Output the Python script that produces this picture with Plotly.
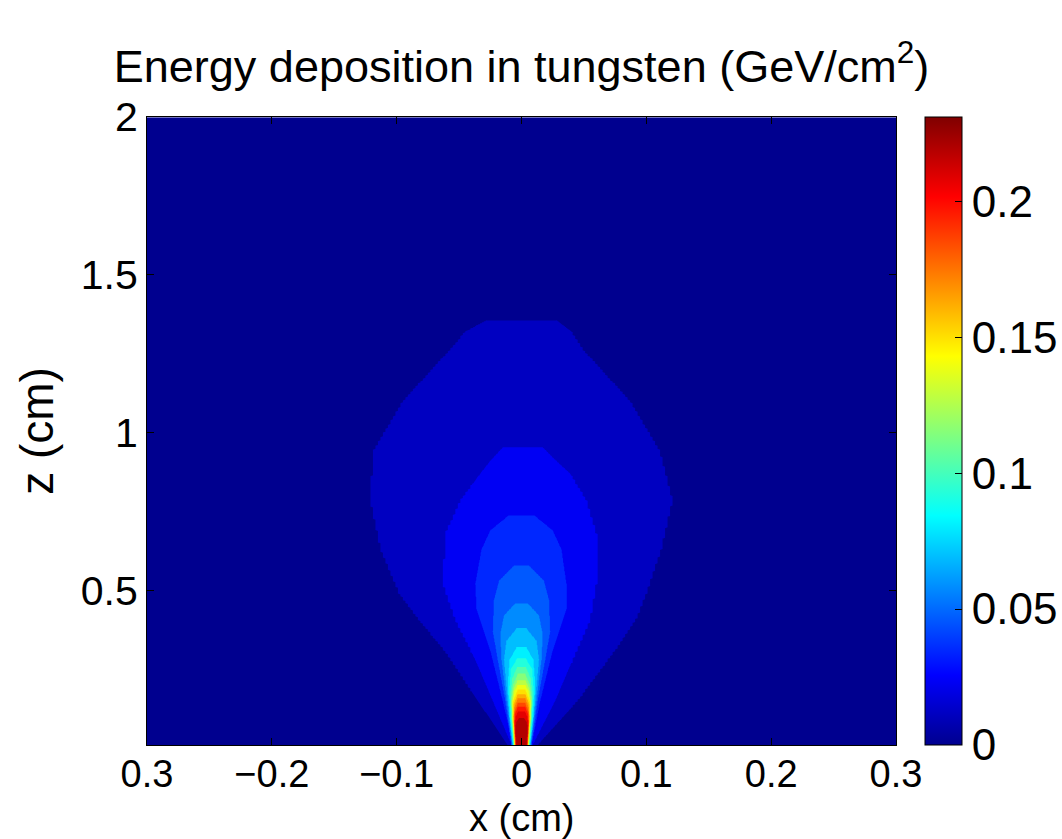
import numpy as np
import plotly.graph_objects as go

# ---------------- data ----------------
CMAX = 0.231                     # top of the colour scale (GeV/cm^2)
N_LEVELS = 20                    # contour levels between 0 and CMAX

# Outer three contour boundaries: z (cm), left edge x (cm), right edge x (cm)
LEV1_Z = [0.01, 0.15, 0.31, 0.41, 0.49, 0.63, 0.785, 0.94, 1.10, 1.26, 1.32, 1.356]
LEV1_L = [-0.011, -0.035, -0.062, -0.083, -0.098, -0.113, -0.121, -0.119, -0.095, -0.058, -0.045, -0.028]
LEV1_R = [0.013, 0.045, 0.075, 0.092, 0.100, 0.112, 0.121, 0.111, 0.087, 0.050, 0.040, 0.028]

LEV2_Z = [0.01, 0.15, 0.28, 0.405, 0.52, 0.68, 0.785, 0.87, 0.91, 0.953]
LEV2_L = [-0.008, -0.023, -0.037, -0.053, -0.063, -0.061, -0.049, -0.033, -0.025, -0.015]
LEV2_R = [0.009, 0.027, 0.041, 0.055, 0.060, 0.060, 0.052, 0.039, 0.028, 0.017]

LEV3_Z = [0.01, 0.15, 0.31, 0.44, 0.52, 0.63, 0.69, 0.738]
LEV3_L = [-0.007, -0.015, -0.025, -0.036, -0.037, -0.032, -0.025, -0.010]
LEV3_R = [0.008, 0.015, 0.025, 0.036, 0.036, 0.032, 0.025, 0.010]

# Inner contour boundaries (levels 4..19): z (cm) and half-width (cm)
INNER_Z = [
    [0.01, 0.15, 0.28, 0.37, 0.47, 0.53, 0.579],
    [0.01, 0.15, 0.28, 0.36, 0.42, 0.459],
    [0.01, 0.15, 0.28, 0.34, 0.379],
    [0.01, 0.10, 0.20, 0.28, 0.319],
    [0.01, 0.10, 0.18, 0.25, 0.284],
    [0.01, 0.10, 0.17, 0.22, 0.256],
    [0.01, 0.10, 0.16, 0.20, 0.235],
    [0.01, 0.10, 0.15, 0.19, 0.216],
    [0.01, 0.10, 0.15, 0.18, 0.200],
    [0.01, 0.10, 0.15, 0.186],
    [0.01, 0.10, 0.14, 0.171],
    [0.01, 0.09, 0.13, 0.157],
    [0.01, 0.09, 0.12, 0.144],
    [0.01, 0.08, 0.11, 0.132],
    [0.01, 0.07, 0.10, 0.117],
    [0.01, 0.06, 0.08, 0.094],
]
INNER_HW = [
    [0.0080, 0.013, 0.019, 0.023, 0.022, 0.018, 0.006],
    [0.0075, 0.012, 0.016, 0.017, 0.014, 0.005],
    [0.0072, 0.011, 0.014, 0.012, 0.004],
    [0.0068, 0.0095, 0.011, 0.0095, 0.004],
    [0.0065, 0.0088, 0.0098, 0.0085, 0.0035],
    [0.0062, 0.0082, 0.0088, 0.0075, 0.0035],
    [0.0060, 0.0078, 0.0082, 0.0068, 0.003],
    [0.0058, 0.0074, 0.0076, 0.0062, 0.003],
    [0.0056, 0.0071, 0.0071, 0.0057, 0.003],
    [0.0054, 0.0068, 0.0065, 0.003],
    [0.0052, 0.0065, 0.0061, 0.003],
    [0.0050, 0.0062, 0.0057, 0.003],
    [0.0048, 0.0060, 0.0054, 0.0028],
    [0.0046, 0.0057, 0.0051, 0.0028],
    [0.0044, 0.0054, 0.0048, 0.0025],
    [0.0040, 0.0050, 0.0043, 0.0022],
]

X_TICKS = [-0.3, -0.2, -0.1, 0, 0.1, 0.2, 0.3]
X_TICKTEXT = ["0.3", "\u22120.2", "\u22120.1", "0", "0.1", "0.2", "0.3"]
Y_TICKS = [0.5, 1, 1.5, 2]
Y_TICKTEXT = ["0.5", "1", "1.5", "2"]
CB_TICKS = [0, 0.05, 0.1, 0.15, 0.2]
CB_TICKTEXT = ["0", "0.05", "0.1", "0.15", "0.2"]

# ---------------- build the level field ----------------
xg = np.unique(np.concatenate([
    np.arange(-0.3, -0.04, 0.002),
    np.arange(-0.04, 0.04, 0.0005),
    np.arange(0.04, 0.3001, 0.002),
])).round(5)
zg = np.arange(0.01, 2.0001, 0.003).round(4)
X = xg[None, :]

boundaries = [(LEV1_Z, LEV1_L, LEV1_R), (LEV2_Z, LEV2_L, LEV2_R), (LEV3_Z, LEV3_L, LEV3_R)]
for zz, hw in zip(INNER_Z, INNER_HW):
    boundaries.append((zz, [-h for h in hw], hw))

band = np.zeros((zg.size, xg.size), dtype=int)
for k, (zz, ll, rr) in enumerate(boundaries, start=1):
    zz = np.asarray(zz)
    left = np.interp(zg, zz, ll)[:, None]
    right = np.interp(zg, zz, rr)[:, None]
    zin = ((zg >= zz[0] - 1e-9) & (zg <= zz[-1]))[:, None]
    mask = zin & (X >= left) & (X <= right)
    band = np.where(mask, np.maximum(band, k), band)

JET = [
    [0.0, "rgb(0,0,143)"],
    [7 / 63, "rgb(0,0,255)"],
    [23 / 63, "rgb(0,255,255)"],
    [39 / 63, "rgb(255,255,0)"],
    [55 / 63, "rgb(255,0,0)"],
    [1.0, "rgb(128,0,0)"],
]

FONT = "Liberation Sans, Arial, Helvetica, sans-serif"

fig = go.Figure()
fig.add_trace(go.Contour(
    x=xg, y=zg, z=band.tolist(),
    colorscale=JET,
    autocontour=False,
    contours=dict(start=0.5, end=N_LEVELS - 0.5, size=1, coloring="fill", showlines=False),
    line=dict(width=0, smoothing=1),
    showscale=False,
    hoverinfo="skip",
))

# colour bar (continuous jet, 0 .. CMAX)
fig.add_trace(go.Scatter(
    x=[-1, -1], y=[-1, -1], mode="markers", showlegend=False, hoverinfo="skip",
    marker=dict(
        color=[0, CMAX], cmin=0, cmax=CMAX, colorscale=JET, showscale=True, size=1,
        colorbar=dict(
            thickness=37, thicknessmode="pixels", len=1, lenmode="fraction",
            x=(925 - 147) / 749, xanchor="left", y=0.5, yanchor="middle",
            xpad=0, ypad=0, outlinewidth=1, outlinecolor="black",
            ticks="inside", ticklen=7, tickcolor="black", tickwidth=1,
            tickvals=CB_TICKS, ticktext=CB_TICKTEXT,
            tickfont=dict(size=44, color="black", family=FONT),
        ),
    ),
))

fig.update_layout(
    width=1062, height=839,
    margin=dict(l=147, r=166, t=117, b=94, autoexpand=False),
    paper_bgcolor="white", plot_bgcolor="white",
    font=dict(family=FONT, size=40, color="black"),
    title=dict(
        text="Energy deposition in tungsten (GeV/cm<sup>2</sup>)",
        x=(147 + 896) / 2 / 1062, xanchor="center",
        y=1 - 66 / 839, yanchor="middle", yref="container",
        font=dict(size=45, family=FONT, color="black"),
    ),
    showlegend=False,
    annotations=[dict(
        text="x (cm)", xref="paper", yref="paper", x=0.5, y=-(818 - 745) / 628,
        xanchor="center", yanchor="middle", showarrow=False,
        font=dict(size=38, family=FONT, color="black"),
    )],
)
fig.update_xaxes(
    range=[-0.3, 0.3], tickvals=X_TICKS, ticktext=X_TICKTEXT,
    ticks="inside", ticklen=7, tickcolor="black", tickwidth=1,
    showline=True, linecolor="black", linewidth=1, mirror="ticks",
    showgrid=False, zeroline=False, ticklabelstandoff=-5,
    tickfont=dict(size=38),
)
fig.update_yaxes(
    range=[0.01, 2], tickvals=Y_TICKS, ticktext=Y_TICKTEXT,
    ticks="inside", ticklen=7, tickcolor="black", tickwidth=1,
    showline=True, linecolor="black", linewidth=1, mirror="ticks",
    showgrid=False, zeroline=False,
    tickfont=dict(size=41), title=dict(text="z (cm)", standoff=12, font=dict(size=46)),
)

fig.write_html("out.html")
